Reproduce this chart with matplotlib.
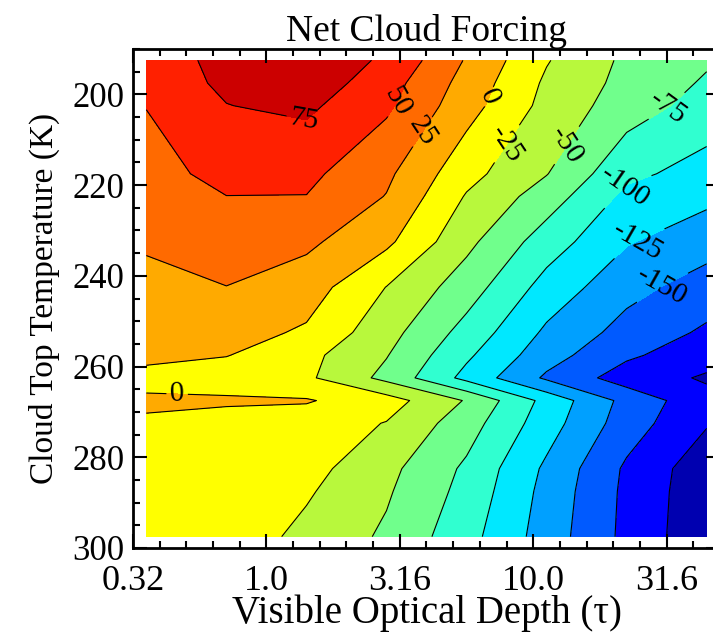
import numpy as np
import matplotlib.pyplot as plt

plt.rcParams['font.family'] = ['Liberation Serif', 'DejaVu Serif']

# grid nodes: log10 of visible optical depth, cloud top temperature (K)
log_tau = [-0.45, -0.15, 0.15, 0.45, 0.75, 1.05, 1.35, 1.65]
cloud_temp = [192.5, 197.5, 202.5, 217.5, 222.5, 232.5, 242.5, 252.5,
              257.5, 262.5, 267.5, 272.5, 282.5, 287.5, 297.5]

# net cloud forcing (W/m2), one row per temperature
net_forcing = [
    [66, 80, 88, 72, 22.8, -23.3, -55, -72],
    [62, 79, 90, 61, 16, -29, -57.5, -78],
    [51, 74.5, 80, 54.6, 10, -32.6, -62.7, -85],
    [34, 63, 56, 30, -16.7, -49, -94, -110],
    [31, 49.5, 49.5, 24, -27, -62, -106.4, -119],
    [27, 32, 30, 5.3, -43.5, -87.5, -123, -139.6],
    [20.4, 24.8, 12.3, -25.5, -62.8, -109.4, -141.9, -161],
    [13, 10, -3.5, -40.7, -84, -129.5, -159, -179],
    [8, 1, -18, -48.7, -95.7, -139.7, -170.8, -190],
    [-10, -14, -20.5, -57, -107.5, -154, -187, -203],
    [5, 4, 2, -14, -52, -108, -158, -192],
    [-4, -11, -12, -26, -63.6, -113.75, -162.8, -198],
    [-5, -8, -16.3, -43, -79.4, -129.6, -179, -215.5],
    [-6, -9, -22, -47, -83, -133, -180.5, -217],
    [-8, -10.5, -31.5, -54, -91, -136.6, -181.5, -218.5],
]

levels = np.arange(-225, 101, 25)
band_colors = ['#0000b0', '#0000ff', '#005aff', '#00a0ff', '#00e8ff',
               '#30ffd0', '#70ff8c', '#b8f83c', '#ffff00', '#ffaa00',
               '#ff6a00', '#ff2000', '#cc0000']
label_levels = [-150, -125, -100, -75, -50, -25, 0, 25, 50, 75]
plain_levels = [-200, -175]
label_pos = [(0.144, 204.4), (0.511, 202.2), (0.594, 208.6), (0.83, 200.4),
             (0.886, 210.3), (1.148, 212.1), (1.49, 201.5), (1.34, 220.2),
             (1.40, 233.4), (1.49, 243.3), (-0.335, 266.8)]

fig = plt.figure(figsize=(7.13, 6.36), dpi=100)
ax = fig.add_axes([133 / 713, 88 / 636, 587 / 713, 499 / 636])

ax.contourf(log_tau, cloud_temp, net_forcing, levels=levels, colors=band_colors)
ax.contour(log_tau, cloud_temp, net_forcing, levels=plain_levels,
           colors='k', linewidths=0.8, negative_linestyles='solid')
cs = ax.contour(log_tau, cloud_temp, net_forcing, levels=label_levels,
                colors='k', linewidths=0.8, negative_linestyles='solid')
ax.clabel(cs, fmt='%d', fontsize=21, inline=True, inline_spacing=4,
          manual=label_pos)

ax.set_xlim(-0.5, 1.7)
ax.set_ylim(300, 190)
ax.set_xticks([-0.5, 0, 0.5, 1.0, 1.5])
ax.set_xticklabels(['0.32', '1.0', '3.16', '10.0', '31.6'])
ax.set_xticks(np.arange(-0.4, 1.7, 0.1), minor=True)
ax.set_yticks(np.arange(200, 301, 20))
ax.set_yticks(np.arange(190, 301, 5), minor=True)
ax.tick_params(which='both', direction='in', top=True, right=True,
               width=1.5, labelsize=25)
ax.tick_params(which='major', length=10)
ax.tick_params(which='minor', length=5)
ax.tick_params(axis='x', pad=12, labelsize=26)
ax.tick_params(axis='y', pad=6)
for sp in ax.spines.values():
    sp.set_linewidth(2)

ax.set_xlabel('Visible Optical Depth (τ)', fontsize=28, labelpad=-2)
ax.set_ylabel('Cloud Top Temperature (K)', fontsize=24)
ax.yaxis.set_label_coords(-0.124, 0.5)
ax.set_title('Net Cloud Forcing', fontsize=27, pad=6)

fig.savefig('out.png', dpi=100)
